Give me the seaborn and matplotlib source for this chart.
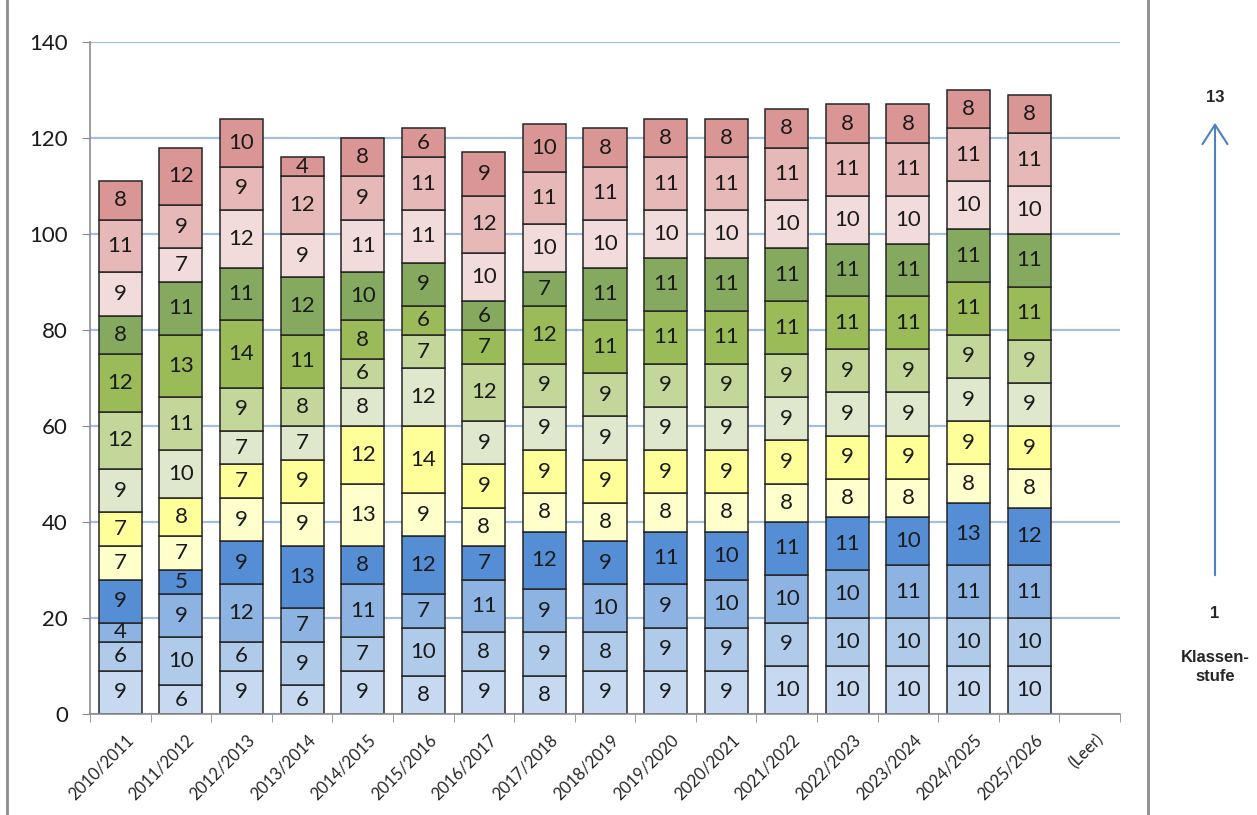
import numpy as np
import pandas as pd
import seaborn as sns
import matplotlib.pyplot as plt
from matplotlib.lines import Line2D
from matplotlib.patches import FancyArrowPatch
from matplotlib.ticker import MultipleLocator
from matplotlib.transforms import ScaledTranslation

years = ['2010/2011', '2011/2012', '2012/2013', '2013/2014', '2014/2015',
         '2015/2016', '2016/2017', '2017/2018', '2018/2019', '2019/2020',
         '2020/2021', '2021/2022', '2022/2023', '2023/2024', '2024/2025',
         '2025/2026']
categories = years + ['(Leer)']

# values per Klassenstufe 1..13, one entry per school year
stufe_1 = [9, 6, 9, 6, 9, 8, 9, 8, 9, 9, 9, 10, 10, 10, 10, 10]
stufe_2 = [6, 10, 6, 9, 7, 10, 8, 9, 8, 9, 9, 9, 10, 10, 10, 10]
stufe_3 = [4, 9, 12, 7, 11, 7, 11, 9, 10, 9, 10, 10, 10, 11, 11, 11]
stufe_4 = [9, 5, 9, 13, 8, 12, 7, 12, 9, 11, 10, 11, 11, 10, 13, 12]
stufe_5 = [7, 7, 9, 9, 13, 9, 8, 8, 8, 8, 8, 8, 8, 8, 8, 8]
stufe_6 = [7, 8, 7, 9, 12, 14, 9, 9, 9, 9, 9, 9, 9, 9, 9, 9]
stufe_7 = [9, 10, 7, 7, 8, 12, 9, 9, 9, 9, 9, 9, 9, 9, 9, 9]
stufe_8 = [12, 11, 9, 8, 6, 7, 12, 9, 9, 9, 9, 9, 9, 9, 9, 9]
stufe_9 = [12, 13, 14, 11, 8, 6, 7, 12, 11, 11, 11, 11, 11, 11, 11, 11]
stufe_10 = [8, 11, 11, 12, 10, 9, 6, 7, 11, 11, 11, 11, 11, 11, 11, 11]
stufe_11 = [9, 7, 12, 9, 11, 11, 10, 10, 10, 10, 10, 10, 10, 10, 10, 10]
stufe_12 = [11, 9, 9, 12, 9, 11, 12, 11, 11, 11, 11, 11, 11, 11, 11, 11]
stufe_13 = [8, 12, 10, 4, 8, 6, 9, 10, 8, 8, 8, 8, 8, 8, 8, 8]

levels = [stufe_1, stufe_2, stufe_3, stufe_4, stufe_5, stufe_6, stufe_7,
          stufe_8, stufe_9, stufe_10, stufe_11, stufe_12, stufe_13]
colors = ['#c6d9f1', '#b0cbea', '#8db3e2', '#558ed5',
          '#ffffcc', '#ffff99',
          '#dfe7cc', '#c4d79b', '#9bbb59', '#86a960',
          '#f2dcdb', '#e6b9b8', '#da9694']

sns.set_style('white')
plt.rcParams['font.family'] = ['Lato', 'DejaVu Sans']

fig = plt.figure(figsize=(12.57, 8.15), dpi=100)
ax = fig.add_axes([90 / 1257, 1 - 714 / 815, (1120 - 90) / 1257, (714 - 42) / 815])

bottom = np.zeros(len(years))
for vals, col in zip(levels, colors):
    df = pd.DataFrame({'Jahr': years, 'Schueler': vals})
    sns.barplot(data=df, x='Jahr', y='Schueler', order=categories, bottom=bottom,
                color=col, saturation=1, width=0.71, errorbar=None,
                edgecolor='#262626', linewidth=1.1, ax=ax)
    ax.bar_label(ax.containers[-1], label_type='center', fontsize=16, color='#1a1a1a')
    bottom = bottom + np.array(vals)

ax.set_ylim(0, 140)
ax.set_xlim(-0.5, len(categories) - 0.5)
ax.yaxis.set_major_locator(MultipleLocator(20))
ax.yaxis.grid(True, color='#a3bde5', linewidth=1.6)
ax.set_axisbelow(True)
ax.set_xlabel('')
ax.set_ylabel('')

for s in ['top', 'right']:
    ax.spines[s].set_visible(False)
for s in ['left', 'bottom']:
    ax.spines[s].set_color('#8c8c8c')
    ax.spines[s].set_linewidth(1.2)

ax.tick_params(axis='y', left=True, length=6, color='#8c8c8c', labelsize=16,
               labelcolor='#1a1a1a', pad=10)
ax.set_xticks(range(len(categories)))
ax.set_xticklabels(categories, rotation=45, ha='right', rotation_mode='anchor',
                   fontsize=12, color='#262626')
ax.tick_params(axis='x', which='major', bottom=False, pad=9)
ax.set_xticks(np.arange(-0.5, len(categories), 1), minor=True)
ax.tick_params(axis='x', which='minor', bottom=True, length=6, color='#8c8c8c')

# shift labels slightly right like the spreadsheet rendering
offset = ScaledTranslation(5 / 100, 0, fig.dpi_scale_trans)
for lbl in ax.get_xticklabels():
    lbl.set_transform(lbl.get_transform() + offset)

# chart frame lines
fig.add_artist(Line2D([7 / 1257, 7 / 1257], [0, 1], color='#8c8c8c', lw=2))
fig.add_artist(Line2D([1148 / 1257, 1148 / 1257], [0, 1], color='#8c8c8c', lw=2))

# Klassenstufe legend on the right
xr = 1215 / 1257
fig.patches.append(FancyArrowPatch(
    (xr, 1 - 578 / 815), (xr, 1 - 120 / 815), transform=fig.transFigure,
    arrowstyle='->,head_length=0.7,head_width=0.45', mutation_scale=20,
    color='#4f81bd', lw=1.5))
fig.text(xr, 1 - 98 / 815, '13', ha='center', va='center', fontsize=12,
         fontweight='bold', family='Liberation Sans')
fig.text(xr, 1 - 613 / 815, '1', ha='center', va='center', fontsize=12,
         fontweight='bold', family='Liberation Sans')
fig.text(xr, 1 - 667 / 815, 'Klassen-\nstufe', ha='center', va='center', fontsize=12,
         fontweight='bold', family='Liberation Sans', linespacing=1.3)

fig.savefig('out.png', dpi=100)
